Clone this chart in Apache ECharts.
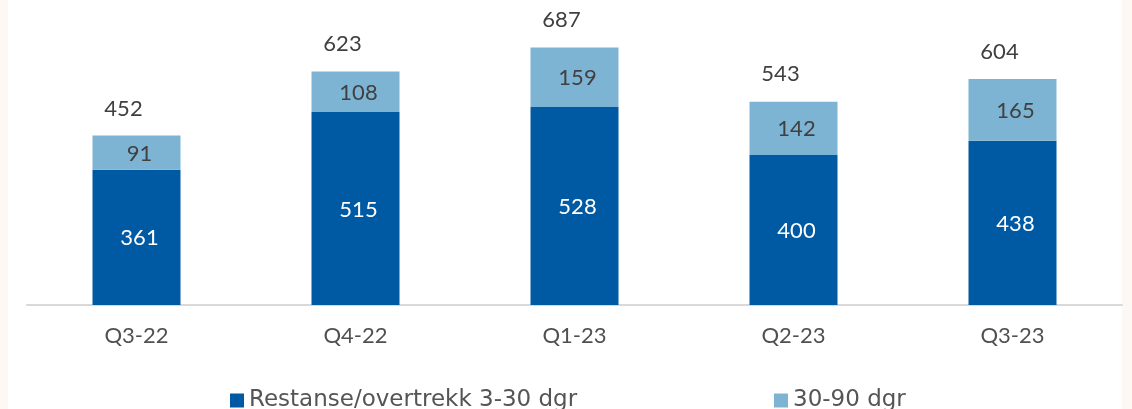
<!DOCTYPE html>
<html>
<head>
<meta charset="utf-8">
<script src="https://cdn.jsdelivr.net/npm/echarts@6/dist/echarts.min.js"></script>
<style>
html,body{margin:0;padding:0;}
body{background:#FDF8F4;}
#chart{width:1132px;height:409px;background:linear-gradient(to right,#FDF8F4 0,#FDF8F4 8px,#ffffff 8px,#ffffff 1122px,#FDF8F4 1122px);}
</style>
</head>
<body>
<div id="chart"></div>
<script>
var categories = ['Q3-22', 'Q4-22', 'Q1-23', 'Q2-23', 'Q3-23'];
var restanse = [361, 515, 528, 400, 438];
var dgr3090 = [91, 108, 159, 142, 165];
var totals = [452, 623, 687, 543, 604];
var seriesNames = ['Restanse/overtrekk 3-30 dgr', '30-90 dgr'];

var FONT = 'Lato';
var LFONT = 'DejaVu Sans';
var TXT = '#404040';
var chart = echarts.init(document.getElementById('chart'), null, {renderer: 'canvas'});
function draw() {
  chart.clear();
  chart.setOption({
    backgroundColor: 'transparent',
    animation: false,
    textStyle: {fontFamily: FONT},
    grid: {left: 27, right: 10, top: 5, bottom: 104},
    legend: [
      {data: [seriesNames[0]], left: 225, top: 384, itemWidth: 14, itemHeight: 14, itemGap: 6, icon: 'rect',
       textStyle: {fontFamily: LFONT, fontSize: 23, color: '#555555'}},
      {data: [seriesNames[1]], left: 769, top: 384, itemWidth: 14, itemHeight: 14, icon: 'rect',
       textStyle: {fontFamily: LFONT, fontSize: 23, color: '#555555'}}
    ],
    xAxis: {
      type: 'category', data: categories,
      axisLine: {lineStyle: {color: '#D9D9D9', width: 2}},
      axisTick: {show: false},
      axisLabel: {fontFamily: FONT, fontSize: 22, color: '#505050', margin: 20}
    },
    yAxis: {type: 'value', min: 0, max: 800, show: false, splitLine: {show: false}},
    series: [
      {name: seriesNames[0], type: 'bar', stack: 'a', data: restanse, barWidth: 88,
       itemStyle: {color: '#0059A3'},
       label: {show: true, position: 'inside', offset: [3, 1], color: '#ffffff', fontFamily: FONT, fontSize: 22}},
      {name: seriesNames[1], type: 'bar', stack: 'a', data: dgr3090, barWidth: 88,
       itemStyle: {color: '#7EB4D3'},
       label: {show: true, position: 'inside', offset: [3, 1], color: TXT, fontFamily: FONT, fontSize: 22}},
      {name: 'total', type: 'bar', data: totals, barWidth: 88, barGap: '-100%', z: 0,
       itemStyle: {color: 'rgba(0,0,0,0)'}, silent: true,
       label: {show: true, position: 'top', distance: 16, offset: [-13, 0], color: TXT, fontFamily: FONT, fontSize: 22}}
    ]
  });
}
draw();
if (document.fonts && document.fonts.load) {
  Promise.all([document.fonts.load('22px "Lato"'), document.fonts.load('23px "DejaVu Sans"')]).then(draw, draw);
}
</script>
</body>
</html>
